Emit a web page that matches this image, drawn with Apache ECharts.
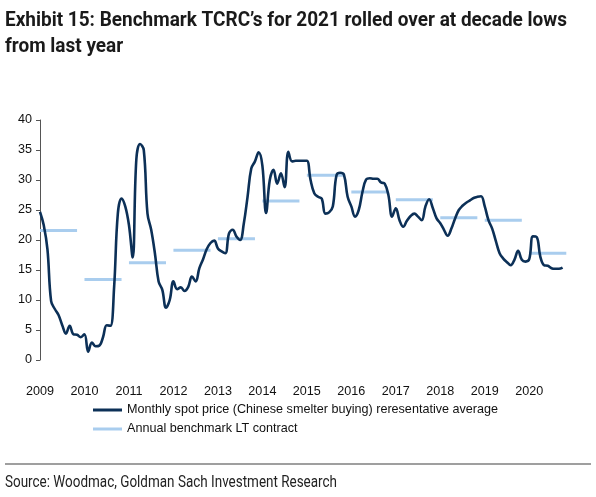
<!DOCTYPE html>
<html>
<head>
<meta charset="utf-8">
<script src="https://cdn.jsdelivr.net/npm/echarts@6/dist/echarts.min.js"></script>
<style>
html,body{margin:0;padding:0;background:#fff;}
#c{width:596px;height:497px;}
</style>
</head>
<body>
<div id="c"></div>
<script>
// ---- data ----
var years = ['2009','2010','2011','2012','2013','2014','2015','2016','2017','2018','2019','2020'];
// Monthly spot TC, Jan 2009 .. Oct 2020
var spot2009 = [24.7, 22.5, 18.5, 9.8, 8.5, 7.5, 5.8, 4.4, 5.7, 4.3, 4.2, 3.8];
var spot2010 = [4.3, 1.4, 2.9, 2.3, 2.4, 3.8, 5.8, 5.7, 12.2, 24.4, 26.9, 25.6];
var spot2011 = [22.5, 17.1, 33.5, 36.0, 35.0, 24.4, 21.7, 17.8, 13.1, 11.7, 8.7, 10.0];
var spot2012 = [13.1, 11.8, 12.1, 11.5, 12.2, 13.9, 13.1, 15.3, 16.8, 18.5, 19.5, 19.9];
var spot2013 = [18.6, 18.1, 17.8, 21.1, 21.7, 20.6, 20.0, 22.8, 27.2, 31.9, 33.1, 34.6];
var spot2014 = [32.4, 24.5, 30.0, 31.7, 29.4, 31.1, 28.8, 34.7, 33.1, 33.2, 33.2, 33.2];
var spot2015 = [33.2, 30.0, 27.8, 27.2, 26.9, 24.4, 24.6, 25.6, 30.8, 31.2, 30.9, 27.2];
var spot2016 = [25.6, 23.9, 25.0, 28.0, 30.1, 30.3, 30.2, 30.2, 29.6, 29.4, 27.5, 23.9];
var spot2017 = [25.3, 23.3, 22.2, 23.2, 24.0, 24.4, 23.9, 23.3, 25.6, 26.8, 25.3, 23.6];
var spot2018 = [22.8, 21.7, 20.7, 21.9, 23.6, 25.0, 25.7, 26.2, 26.6, 27.0, 27.2, 27.3];
var spot2019 = [25.6, 23.3, 21.9, 19.8, 17.8, 16.9, 16.3, 15.8, 16.7, 18.2, 16.7, 16.4];
var spot2020 = [16.8, 20.6, 20.5, 17.2, 15.8, 15.7, 15.3, 15.2, 15.2, 15.4];
// Annual benchmark LT contract, one value per year
var benchmark = [21.6, 13.4, 16.2, 18.3, 20.2, 26.5, 30.8, 28.0, 26.7, 23.7, 23.3, 17.8];
var yTicks = [0, 5, 10, 15, 20, 25, 30, 35, 40];

var titleLines = ['Exhibit 15: Benchmark TCRC\u2019s for 2021 rolled over at decade lows', 'from last year'];
var sourceText = 'Source: Woodmac, Goldman Sach Investment Research';
var name1 = 'Monthly spot price (Chinese smelter buying) reresentative average';
var name2 = 'Annual benchmark LT contract';

// ---- build series ----
var months = [];
years.forEach(function (y) { for (var m = 1; m <= 12; m++) months.push(y + '-' + (m < 10 ? '0' + m : m)); });
var spot = [].concat(spot2009, spot2010, spot2011, spot2012, spot2013, spot2014,
  spot2015, spot2016, spot2017, spot2018, spot2019, spot2020);
var bench = [];
benchmark.forEach(function (v) { for (var m = 0; m < 12; m++) bench.push(m <= 10 ? v : '-'); });

// condensed-text emulation: horizontal scale to reach the reference widths
var ctx = document.createElement('canvas').getContext('2d');
function measure(font, txt) { ctx.font = font; return ctx.measureText(txt).width; }
var titleFont = 'bold 21px Roboto';
var titleScale = 562 / measure(titleFont, titleLines[0]);
var srcFont = '16px Roboto';
var srcScale = 332 / measure(srcFont, sourceText);

var chart = echarts.init(document.getElementById('c'), null, {renderer: 'canvas'});
chart.setOption({
  animation: false,
  backgroundColor: '#fff',
  grid: {left: 40, right: 26, top: 120, bottom: 137, containLabel: false},
  legend: {
    orient: 'vertical', left: 93, top: 403, padding: 0, itemWidth: 29, itemHeight: 3, itemGap: 5,
    icon: 'rect',
    textStyle: {fontFamily: '"Liberation Sans", Arial, sans-serif', fontSize: 12.6, color: '#111', lineHeight: 14},
    data: [name1, name2]
  },
  xAxis: {
    type: 'category', data: months, boundaryGap: false,
    axisLine: {show: false}, axisTick: {show: false}, splitLine: {show: false},
    axisLabel: {
      interval: 11, margin: 25, color: '#111', fontSize: 12.6,
      fontFamily: '"Liberation Sans", Arial, sans-serif',
      formatter: function (v) { return v.slice(0, 4); }
    }
  },
  yAxis: {
    type: 'value', min: yTicks[0], max: yTicks[yTicks.length - 1], interval: 5,
    axisLine: {show: true, lineStyle: {color: '#555', width: 1}},
    axisTick: {show: true, length: 4, lineStyle: {color: '#555'}},
    splitLine: {show: false},
    axisLabel: {margin: 8, color: '#111', fontSize: 12.6, fontFamily: '"Liberation Sans", Arial, sans-serif'}
  },
  series: [
    {
      name: name2, type: 'line', data: bench, symbol: 'none', connectNulls: false,
      lineStyle: {color: '#a9cdee', width: 3, cap: 'butt'}, itemStyle: {color: '#a9cdee'}, z: 2
    },
    {
      name: name1, type: 'line', data: spot, symbol: 'none', smooth: 0.4,
      lineStyle: {color: '#0c3057', width: 2.6}, itemStyle: {color: '#0c3057'}, z: 3
    }
  ],
  graphic: [
    {type: 'text', x: 5, y: 10, scaleX: titleScale, style: {
      text: titleLines[0], font: titleFont, fill: '#1a1a1a', verticalAlign: 'top'}},
    {type: 'text', x: 5, y: 36, scaleX: titleScale, style: {
      text: titleLines[1], font: titleFont, fill: '#1a1a1a', verticalAlign: 'top'}},
    {type: 'line', shape: {x1: 5, y1: 464, x2: 591, y2: 464}, style: {stroke: '#7f7f7f', lineWidth: 1.5}},
    {type: 'text', x: 5, y: 475, scaleX: srcScale, style: {
      text: sourceText, font: srcFont, fill: '#222', verticalAlign: 'top'}}
  ]
});
</script>
</body>
</html>
